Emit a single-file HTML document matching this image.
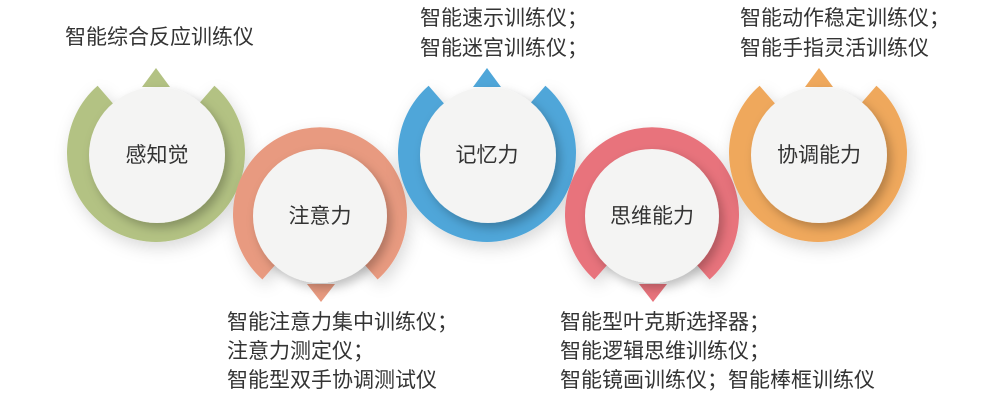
<!DOCTYPE html>
<html><head><meta charset="utf-8"><style>
html,body{margin:0;padding:0;background:#fff;width:1000px;height:404px;overflow:hidden}
svg text{font-family:"Liberation Sans","Noto Sans CJK SC",sans-serif;fill:#333}
</style></head><body>
<svg width="1000" height="404" viewBox="0 0 1000 404" xmlns="http://www.w3.org/2000/svg">
<defs>
<filter id="sh" x="-30%" y="-30%" width="160%" height="160%"><feDropShadow dx="4" dy="5" stdDeviation="5" flood-color="#000" flood-opacity="0.25"/></filter>
<filter id="sh2" x="-30%" y="-30%" width="160%" height="160%"><feDropShadow dx="3" dy="6" stdDeviation="8" flood-color="#000" flood-opacity="0.15"/></filter>
</defs>
<g>
<path d="M156,153 L97.6,85.8 A89,89 0 1 0 214.4,85.8 Z" fill="#b3c283" filter="url(#sh2)"/>
<polygon points="156,68 142,87 170,87" fill="#b3c283"/>
<circle cx="157" cy="155" r="68" fill="#f4f4f3" filter="url(#sh)"/>
<text x="157" y="162" font-size="21" text-anchor="middle">感知觉</text>
</g>
<g>
<path d="M320,214 L262.4,279.5 A87,87 0 1 1 377.6,279.5 Z" fill="#e89a80" filter="url(#sh2)"/>
<polygon points="321,302 307,284 335,284" fill="#e89a80"/>
<circle cx="320" cy="216" r="67" fill="#f4f4f3" filter="url(#sh)"/>
<text x="320" y="223" font-size="21" text-anchor="middle">注意力</text>
</g>
<g>
<path d="M487,153 L428.6,85.8 A89,89 0 1 0 545.4,85.8 Z" fill="#4fa6d9" filter="url(#sh2)"/>
<polygon points="487,68 473,87 501,87" fill="#4fa6d9"/>
<circle cx="488" cy="155" r="68" fill="#f4f4f3" filter="url(#sh)"/>
<text x="487" y="162" font-size="21" text-anchor="middle">记忆力</text>
</g>
<g>
<path d="M652,214 L594.4,279.5 A87,87 0 1 1 709.6,279.5 Z" fill="#e8737c" filter="url(#sh2)"/>
<polygon points="653,302 639,284 667,284" fill="#e8737c"/>
<circle cx="652" cy="216" r="67" fill="#f4f4f3" filter="url(#sh)"/>
<text x="652" y="223" font-size="21" text-anchor="middle">思维能力</text>
</g>
<g>
<path d="M818,153 L759.6,85.8 A89,89 0 1 0 876.4,85.8 Z" fill="#efa85c" filter="url(#sh2)"/>
<polygon points="819,68 805,87 833,87" fill="#efa85c"/>
<circle cx="819" cy="155" r="68" fill="#f4f4f3" filter="url(#sh)"/>
<text x="819" y="162" font-size="21" text-anchor="middle">协调能力</text>
</g>
<g font-size="21">
<text x="65" y="44">智能综合反应训练仪</text>
<text x="420" y="25">智能速示训练仪；</text>
<text x="420" y="55">智能迷宫训练仪；</text>
<text x="740" y="25">智能动作稳定训练仪；</text>
<text x="740" y="55">智能手指灵活训练仪</text>
<text x="227" y="329">智能注意力集中训练仪；</text>
<text x="227" y="358">注意力测定仪；</text>
<text x="227" y="387">智能型双手协调测试仪</text>
<text x="560" y="329">智能型叶克斯选择器；</text>
<text x="560" y="358">智能逻辑思维训练仪；</text>
<text x="560" y="387">智能镜画训练仪；智能棒框训练仪</text>
</g>
</svg>
</body></html>
